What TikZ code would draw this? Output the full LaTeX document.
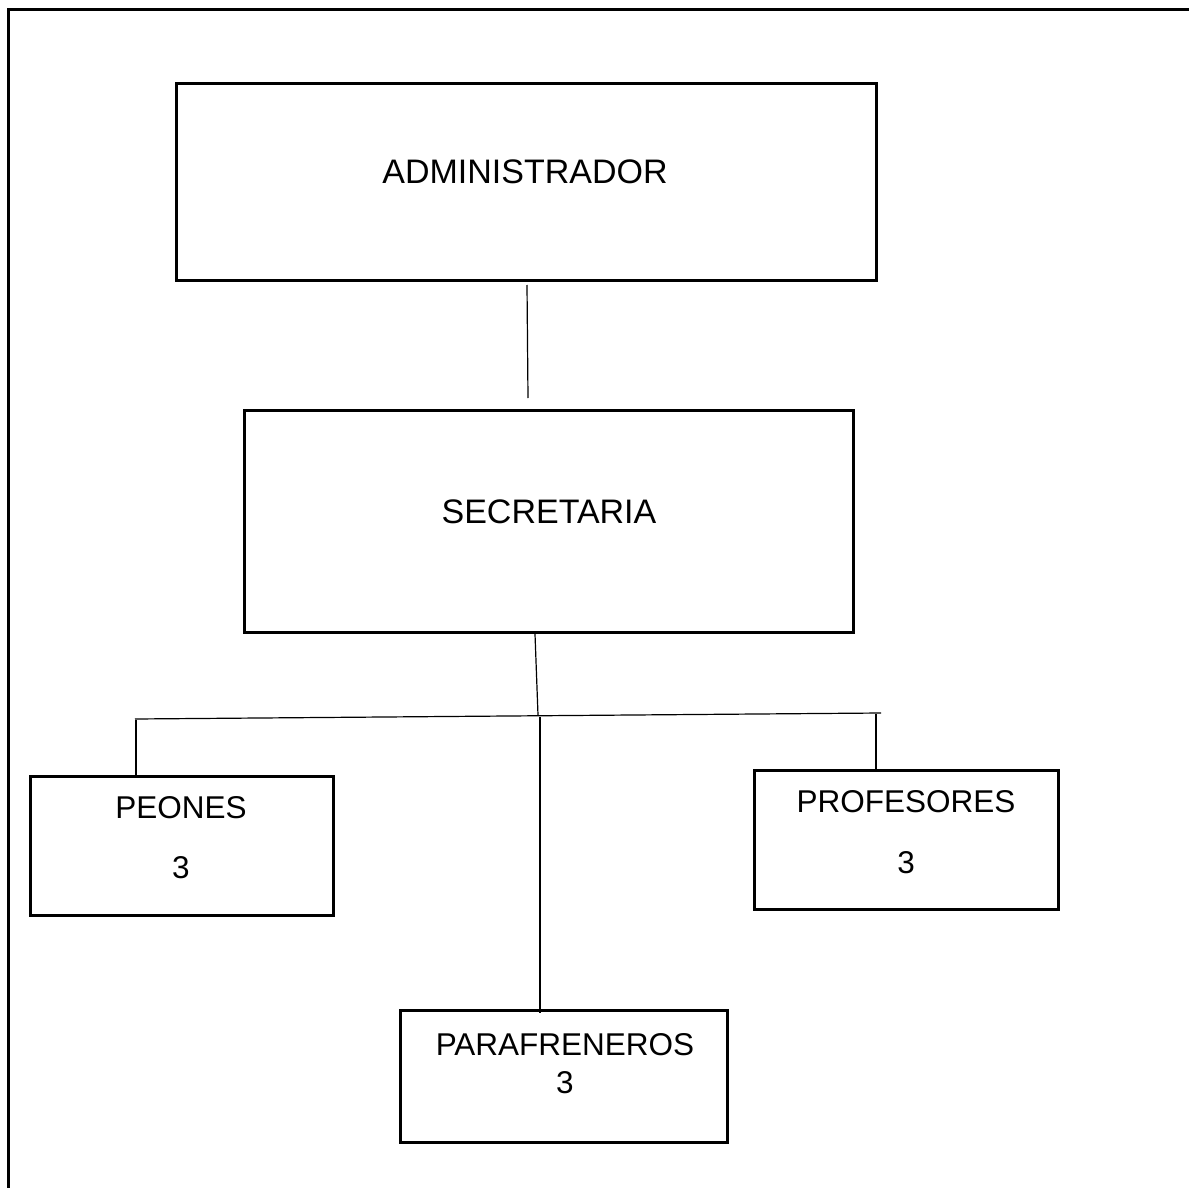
\documentclass[tikz,border=0pt]{standalone}
\usepackage{fontspec}
\setmainfont{Liberation Sans}
\begin{document}
\begin{tikzpicture}[x=1pt,y=-1pt,
  box/.style={draw=black, line width=3pt, inner sep=0pt, fill=white},
  big/.style={inner sep=0pt, font=\fontsize{34}{40}\selectfont},
  small/.style={inner sep=0pt, font=\fontsize{31.5}{38}\selectfont},
  conn/.style={draw=black, line width=1.2pt}]
\useasboundingbox (0,0) rectangle (1189,1188);
% outer frame
\draw[line width=3pt] (1195,10) -- (8,10) -- (8,1195);
% boxes
\node[box, minimum width=700pt, minimum height=196pt] (admin) at (526,182) {};
\node[box, minimum width=609pt, minimum height=222pt] (secr) at (548.5,521) {};
\node[box, minimum width=303pt, minimum height=139pt] (peon) at (181.5,845.5) {};
\node[box, minimum width=304pt, minimum height=139pt] (prof) at (906,839.5) {};
\node[box, minimum width=327pt, minimum height=132pt] (para) at (563.5,1076) {};
% labels
\node[big] (admint) at (525,172) {ADMINISTRADOR};
\node[big] (secrt) at (549,512) {SECRETARIA};
\node[small] (peont) at (181,808) {PEONES};
\node[small] (peonn) at (181,868) {3};
\node[small] (proft) at (906,802) {PROFESORES};
\node[small] (profn) at (906,863) {3};
\node[small] (parat) at (565,1045) {PARAFRENEROS};
\node[small] (paran) at (565,1083) {3};
% connector coordinates
\coordinate (a1) at (527,285);
\coordinate (a2) at (528,398);
\coordinate (s1) at (535,634);
\coordinate (s2) at (538,715);
\coordinate (hl) at (135,719);
\coordinate (hr) at (881,713);
\coordinate (pl) at (136,720);
\coordinate (pm) at (540,717);
\coordinate (pr) at (876,714);
% connectors
\draw[conn] (a1) -- (a2);
\draw[conn] (s1) -- (s2);
\draw[conn] (hl) -- (hr);
\draw[conn] (pl) -- (pl |- peon.north);
\draw[conn] (pm) -- ([yshift=-4pt]pm |- para.north);
\draw[conn] (pr) -- (pr |- prof.north);
\end{tikzpicture}
\end{document}
